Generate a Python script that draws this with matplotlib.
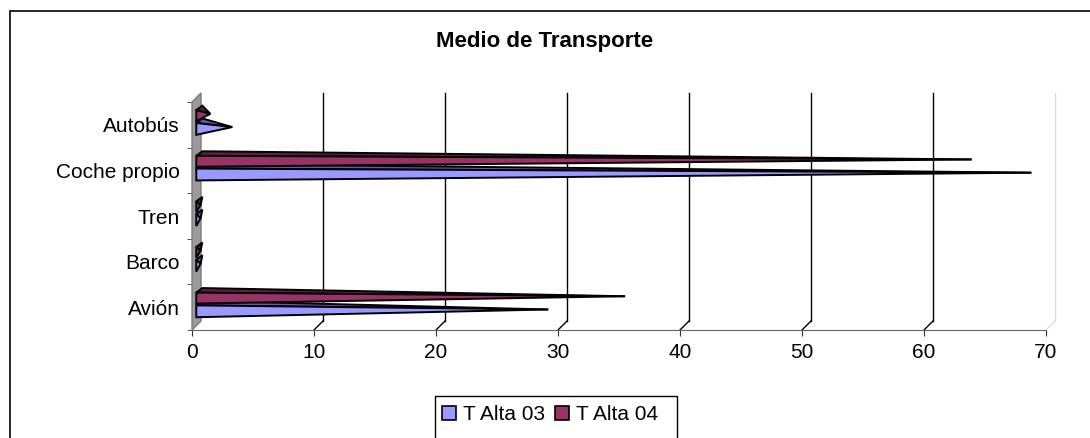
import matplotlib
matplotlib.use('Agg')
import matplotlib.pyplot as plt
import matplotlib.transforms as mtransforms
from matplotlib.patches import Polygon, Rectangle, Patch
import numpy as np

## data
categories = ['Avión', 'Barco', 'Tren', 'Coche propio', 'Autobús']
alta03 = [28.8, 0.3, 0.3, 68.4, 2.9]
alta04 = [35.1, 0.3, 0.3, 63.5, 1.1]
series_names = ['T Alta 03', 'T Alta 04']
xticks = [0, 10, 20, 30, 40, 50, 60, 70]

plt.rcParams['font.family'] = ['Liberation Sans', 'DejaVu Sans']

W, H = 1090, 438
def fx(px): return px / W
def fy(py): return 1 - py / H

fig = plt.figure(figsize=(W / 100, H / 100), dpi=100)
ax = fig.add_axes([fx(192), fy(330), fx(1046) - fx(192), fy(102) - fy(330)])
ax.set_xlim(0, 70)
ax.set_ylim(-0.5, 4.5)

## 3d depth offsets (pixels -> data / axes units)
dxa, dya = 9 / 854, 9 / 228
dxd = dxa * 70
btrans = mtransforms.blended_transform_factory(ax.transData, ax.transAxes)

## back wall gridlines + floor marks
for v in xticks[1:]:
    col = '#dddddd' if v == xticks[-1] else 'black'
    ax.plot([v + dxd, v + dxd], [dya, 1 + dya], transform=btrans, color=col, lw=1, clip_on=False, zorder=1)
    ax.plot([v, v + dxd], [0, dya], transform=btrans, color=col, lw=1, clip_on=False, zorder=1)

## grey side wall
wall = Polygon([(0, 0), (0, 1), (dxa, 1 + dya), (dxa, dya)], closed=True, transform=ax.transAxes,
               fc='#9a9a9a', ec='#7a7a7a', lw=1, clip_on=False, zorder=2)
ax.add_patch(wall)

## pyramid bars
x0 = 0.35
styles = [(alta03, -0.09, 0.13, '#9999ff', '#5c5ca8'),
          (alta04, 0.20, 0.12, '#993366', '#5e1f40')]
for vals, off, hh, front, top in styles:
    for i, v in enumerate(vals):
        c = i + off
        tip = (v + 0.4, c + 0.04)
        ax.add_patch(Polygon([(x0, c + hh), (x0 + 0.5, c + hh + 0.1), tip], closed=True,
                             fc=top, ec='black', lw=1.4, joinstyle='miter', zorder=3))
        ax.add_patch(Polygon([(x0, c - hh), (x0, c + hh), tip], closed=True,
                             fc=front, ec='black', lw=1.4, joinstyle='miter', zorder=4))

## axes styling
for s in ['top', 'right', 'left']:
    ax.spines[s].set_visible(False)
ax.spines['bottom'].set_color('#666666')
ax.set_xticks(xticks)
ax.tick_params(axis='x', direction='out', length=4.3, color='#333333', pad=5, labelsize=15)
ax.set_yticks(range(len(categories)))
ax.set_yticklabels(categories)
ax.set_yticks(np.arange(-0.5, 5, 1), minor=True)
ax.tick_params(axis='y', which='major', length=0, pad=9, labelsize=15)
ax.tick_params(axis='y', which='minor', length=3.6, color='#333333')

## title
fig.text(fx(545), fy(42), 'Medio de Transporte', ha='center', va='center', fontsize=16, fontweight='bold')

## outer chart border
fig.add_artist(Rectangle((fx(10), fy(460)), fx(1110) - fx(10), fy(11) - fy(460),
                         transform=fig.transFigure, fill=False, ec='black', lw=1.2))

## legend
fig.add_artist(Rectangle((fx(435), fy(460)), fx(677) - fx(435), fy(396) - fy(460),
                         transform=fig.transFigure, fill=False, ec='black', lw=1))
handles = [Patch(fc='#9999ff', ec='black', lw=1.2), Patch(fc='#993366', ec='black', lw=1.2)]
fig.legend(handles, series_names, loc='center left', bbox_to_anchor=(fx(442), fy(415)), ncol=2,
           frameon=False, handlelength=0.65, handleheight=0.65, handletextpad=0.35,
           columnspacing=0.5, borderpad=0, borderaxespad=0, fontsize=15)

fig.savefig('out.png', dpi=100)
